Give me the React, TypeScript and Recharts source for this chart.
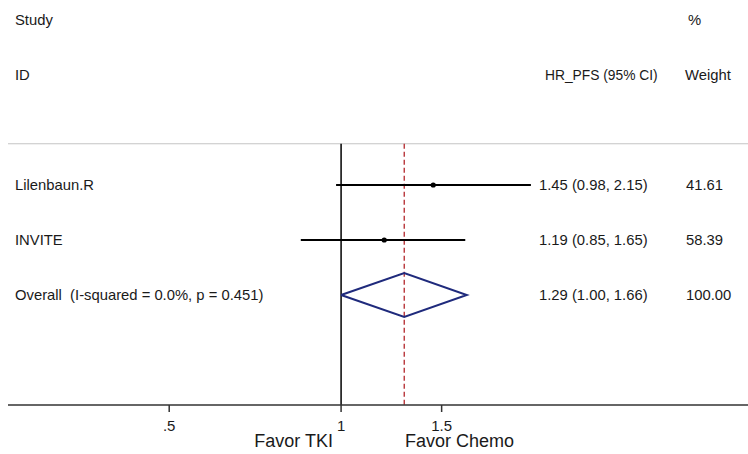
import React from "react";
import {
  ComposedChart,
  XAxis,
  YAxis,
  Scatter,
  Line,
  ReferenceLine,
  Customized,
} from "recharts";

// study rows
const studies = ["Lilenbaun.R", "INVITE"];
const hrValues = [1.45, 1.19];
const ciLow = [0.98, 0.85];
const ciHigh = [2.15, 1.65];
const weights = ["41.61", "58.39"];

// pooled estimate
const overallLabel = "Overall  (I-squared = 0.0%, p = 0.451)";
const overallHr = 1.29;
const overallLow = 1.0;
const overallHigh = 1.66;
const overallWeight = "100.00";

const xTicks = [0.5, 1, 1.5];

const W = 748;
const H = 454;
const FONT = "'Liberation Sans', Arial, sans-serif";
const TEXT = "#1a1a1a";
const ROW_FONT = 14.8;

// row index on the vertical axis (0 = "Study" header line)
const FIRST_ROW = 3;
const OVERALL_ROW = FIRST_ROW + studies.length;
const SEPARATOR_ROW = 2.25;
const AXIS_ROW = 7;

const fmt = (h: number, lo: number, hi: number) =>
  `${h.toFixed(2)} (${lo.toFixed(2)}, ${hi.toFixed(2)})`;

const labelRows = [
  ...studies.map((s, i) => ({
    x: 1,
    y: FIRST_ROW + i,
    name: s,
    est: fmt(hrValues[i], ciLow[i], ciHigh[i]),
    weight: weights[i],
  })),
  {
    x: 1,
    y: OVERALL_ROW,
    name: overallLabel,
    est: fmt(overallHr, overallLow, overallHigh),
    weight: overallWeight,
  },
];

const pointRows = studies.map((_, i) => ({ x: hrValues[i], y: FIRST_ROW + i }));

const diamond = [
  { x: overallLow, y: OVERALL_ROW },
  { x: overallHr, y: OVERALL_ROW - 0.4 },
  { x: overallHigh, y: OVERALL_ROW },
  { x: overallHr, y: OVERALL_ROW + 0.4 },
  { x: overallLow, y: OVERALL_ROW },
];

const renderLabels = (props: any) => {
  const { cy, payload } = props;
  return (
    <g fontFamily={FONT} fontSize={ROW_FONT} fill={TEXT}>
      <text x={15} y={cy} dy="0.35em" style={{ whiteSpace: "pre" }}>
        {payload.name}
      </text>
      <text x={539} y={cy} dy="0.35em">
        {payload.est}
      </text>
      <text x={686} y={cy} dy="0.35em">
        {payload.weight}
      </text>
    </g>
  );
};

const renderPoint = (props: any) => (
  <circle cx={props.cx} cy={props.cy} r={2.6} fill="#000" />
);

const Headers = () => (
  <g fontFamily={FONT} fontSize={ROW_FONT} fill={TEXT}>
    <text x={15} y={20} dy="0.35em">Study</text>
    <text x={688} y={20} dy="0.35em">%</text>
    <text x={15} y={75} dy="0.35em">ID</text>
    <text x={545} y={75} dy="0.35em" fontSize={13.8}>HR_PFS (95% CI)</text>
    <text x={685} y={75} dy="0.35em">Weight</text>
    <text x={333} y={447} fontSize={18} textAnchor="end">Favor TKI</text>
    <text x={405} y={447} fontSize={18}>Favor Chemo</text>
  </g>
);

const tickFmt = (v: number) => (v < 1 ? String(v).replace(/^0/, "") : String(v));

export default function App() {
  return (
    <div style={{ position: "absolute", left: 0, top: 0, background: "#fff" }}>
      <ComposedChart
        width={W}
        height={H}
        margin={{ top: 0, right: 0, bottom: 0, left: 8 }}
      >
        <XAxis
          dataKey="x"
          type="number"
          scale="log"
          domain={[0.261, 5.16]}
          allowDataOverflow
          ticks={xTicks}
          tickFormatter={tickFmt}
          height={49}
          stroke="#333"
          strokeWidth={1.5}
          tickSize={7}
          tickMargin={8}
          tick={{ fontSize: 15, fill: TEXT, fontFamily: FONT }}
        />
        <YAxis
          dataKey="y"
          type="number"
          hide
          reversed
          domain={[-20 / 55, AXIS_ROW]}
          allowDataOverflow
        />
        <ReferenceLine y={SEPARATOR_ROW} stroke="#c4c4c4" strokeWidth={1.2} />
        <ReferenceLine
          segment={[
            { x: 1, y: SEPARATOR_ROW },
            { x: 1, y: AXIS_ROW },
          ]}
          stroke="#000"
          strokeWidth={1.5}
        />
        <ReferenceLine
          segment={[
            { x: overallHr, y: SEPARATOR_ROW },
            { x: overallHr, y: AXIS_ROW },
          ]}
          stroke="#b3262b"
          strokeWidth={1.3}
          strokeDasharray="5 3"
        />
        {studies.map((s, i) => (
          <ReferenceLine
            key={s}
            segment={[
              { x: ciLow[i], y: FIRST_ROW + i },
              { x: ciHigh[i], y: FIRST_ROW + i },
            ]}
            stroke="#000"
            strokeWidth={2}
          />
        ))}
        <Line
          data={diamond}
          dataKey="y"
          type="linear"
          stroke="#1f2a7c"
          strokeWidth={2}
          dot={false}
          activeDot={false}
          isAnimationActive={false}
        />
        <Scatter
          data={pointRows}
          dataKey="y"
          shape={renderPoint}
          isAnimationActive={false}
        />
        <Scatter
          data={labelRows}
          dataKey="y"
          shape={renderLabels}
          isAnimationActive={false}
        />
        <Customized component={Headers} />
      </ComposedChart>
    </div>
  );
}
